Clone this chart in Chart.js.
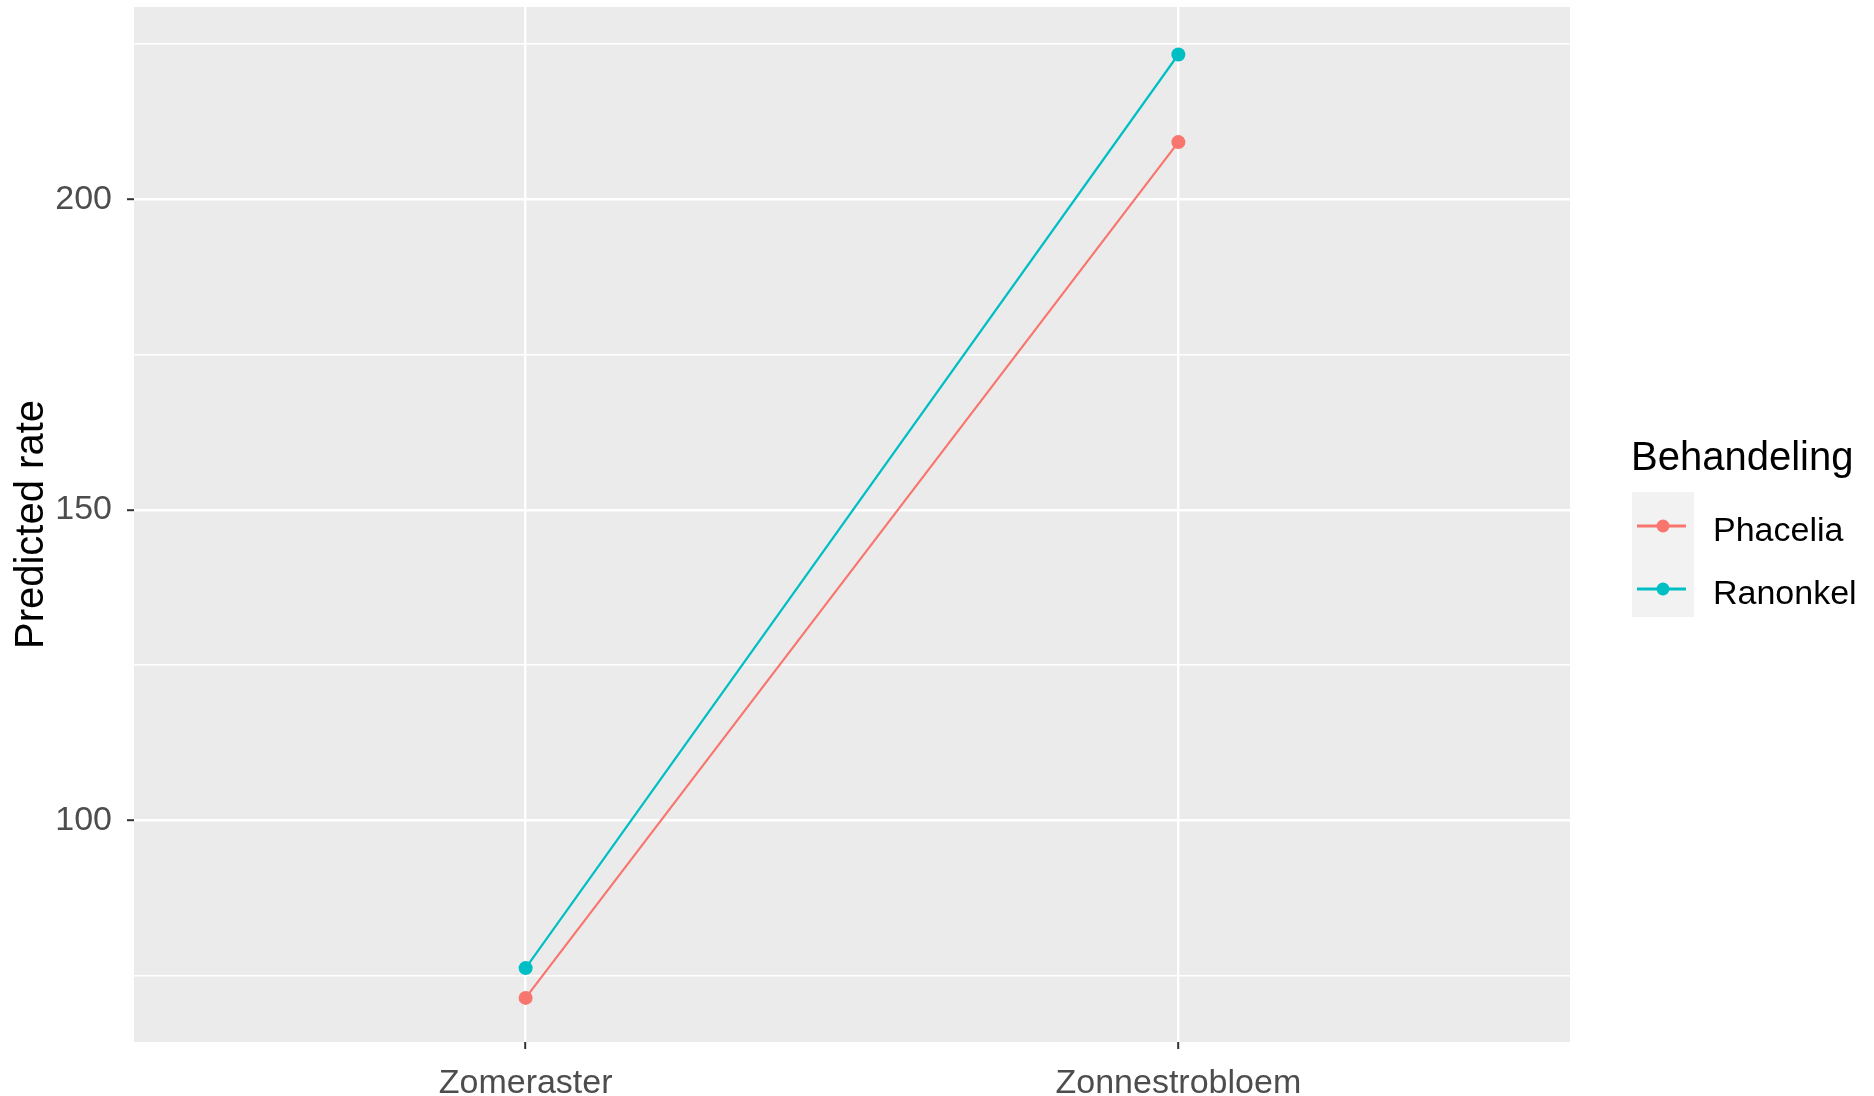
<!DOCTYPE html>
<html>
<head>
<meta charset="utf-8">
<script src="https://cdn.jsdelivr.net/npm/chart.js@4/dist/chart.umd.min.js"></script>
<style>
  html, body { margin: 0; padding: 0; background: #fff; }
  canvas { display: block; }
</style>
</head>
<body>
<canvas id="chart" width="1874" height="1096"></canvas>
<script>
// data
const categories = ["Zomeraster", "Zonnestrobloem"];
const phacelia = [71.4, 209.2];
const ranonkel = [76.2, 223.3];
const yMajor = [100, 150, 200];
const yMinor = [75, 125, 175, 225];
const seriesNames = ["Phacelia", "Ranonkel"];
const seriesColors = ["#F8766D", "#00BFC4"];

// axis limits as seen on the panel
const yMin = 64.3;
const yMax = 230.95;

const FONT = "'Liberation Sans', Arial, sans-serif";

const toPoints = arr => arr.map((v, i) => ({ x: i + 1, y: v }));

// panel background + legend
const ggPlugin = {
  id: "gg",
  beforeDraw(chart) {
    const { ctx, chartArea: a } = chart;
    ctx.save();
    ctx.fillStyle = "#EBEBEB";
    ctx.fillRect(a.left, a.top, a.right - a.left, a.bottom - a.top);
    ctx.restore();
  },
  afterDraw(chart) {
    const ctx = chart.ctx;
    ctx.save();
    ctx.fillStyle = "#000";
    ctx.font = "40px " + FONT;
    ctx.textBaseline = "alphabetic";
    ctx.fillText("Behandeling", 1631, 470);

    ctx.fillStyle = "#F2F2F2";
    ctx.fillRect(1632, 492, 62, 125);

    const keyY = [526, 589];
    seriesNames.forEach((name, i) => {
      const y = keyY[i];
      ctx.strokeStyle = seriesColors[i];
      ctx.lineWidth = 3;
      ctx.beginPath();
      ctx.moveTo(1637, y);
      ctx.lineTo(1686, y);
      ctx.stroke();
      ctx.fillStyle = seriesColors[i];
      ctx.beginPath();
      ctx.arc(1663, y, 6.5, 0, Math.PI * 2);
      ctx.fill();
      ctx.fillStyle = "#000";
      ctx.font = "34px " + FONT;
      ctx.textBaseline = "middle";
      ctx.fillText(name, 1713, y + 6);
    });
    ctx.restore();
  }
};

new Chart(document.getElementById("chart"), {
  type: "line",
  data: {
    datasets: [
      {
        label: seriesNames[0],
        data: toPoints(phacelia),
        borderColor: seriesColors[0],
        backgroundColor: seriesColors[0],
        borderWidth: 2.2,
        pointRadius: 7,
        pointBorderWidth: 0,
        tension: 0
      },
      {
        label: seriesNames[1],
        data: toPoints(ranonkel),
        borderColor: seriesColors[1],
        backgroundColor: seriesColors[1],
        borderWidth: 2.2,
        pointRadius: 7,
        pointBorderWidth: 0,
        tension: 0
      }
    ]
  },
  options: {
    responsive: false,
    animation: false,
    layout: { padding: { top: 6, right: 304, left: 0, bottom: 0 } },
    plugins: {
      legend: { display: false },
      tooltip: { enabled: false }
    },
    scales: {
      x: {
        type: "linear",
        min: 0.4,
        max: 2.6,
        afterBuildTicks: s => { s.ticks = categories.map((c, i) => ({ value: i + 1 })); },
        afterFit: s => { s.height = 54; s.paddingLeft = 0; s.paddingRight = 0; },
        border: { display: false },
        grid: {
          color: "#FFFFFF",
          lineWidth: 2.4,
          tickLength: 7,
          tickColor: "#333333",
          tickWidth: 2
        },
        ticks: {
          callback: v => categories[Math.round(v) - 1],
          color: "#4D4D4D",
          font: { family: FONT, size: 34 },
          padding: 14,
          maxRotation: 0,
          autoSkip: false
        }
      },
      y: {
        type: "linear",
        min: yMin,
        max: yMax,
        afterBuildTicks: s => {
          s.ticks = yMinor.concat(yMajor).sort((a, b) => a - b).map(v => ({ value: v }));
        },
        afterFit: s => { s.width = 134; s.paddingTop = 0; s.paddingBottom = 0; },
        border: { display: false },
        grid: {
          color: "#FFFFFF",
          lineWidth: c => (yMajor.includes(c.tick.value) ? 2.4 : 1.4),
          tickLength: 7,
          tickColor: c => (yMajor.includes(c.tick.value) ? "#333333" : "rgba(0,0,0,0)"),
          tickWidth: 2
        },
        ticks: {
          callback: v => (yMajor.includes(v) ? String(v) : ""),
          color: "#4D4D4D",
          font: { family: FONT, size: 34 },
          padding: 15,
          autoSkip: false
        },
        title: {
          display: true,
          text: "Predicted rate",
          color: "#000",
          font: { family: FONT, size: 40 },
          padding: { top: 8, bottom: 0 }
        }
      }
    }
  },
  plugins: [ggPlugin]
});
</script>
</body>
</html>
